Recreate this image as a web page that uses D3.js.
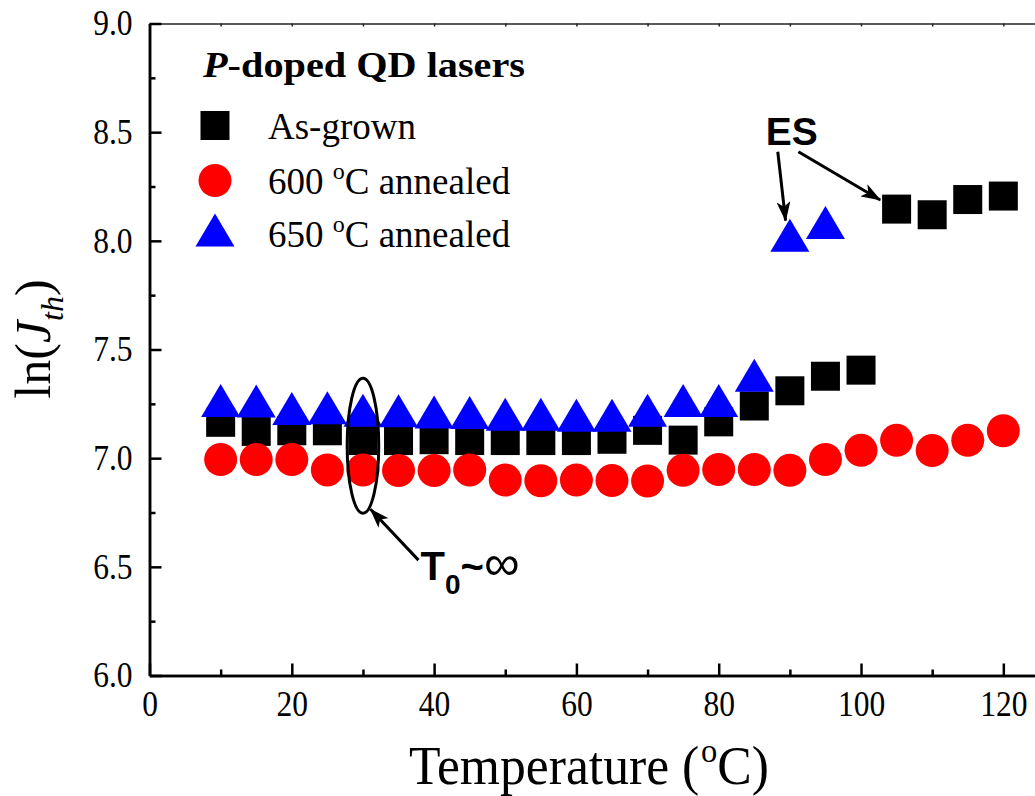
<!DOCTYPE html>
<html>
<head>
<meta charset="utf-8">
<script src="https://cdn.jsdelivr.net/npm/d3@7"></script>
<style>
  body { margin: 0; background: #fff; }
  svg { display: block; }
</style>
</head>
<body>
<svg id="chart"></svg>
<script>
// values: temperature (oC) vs ln(Jth)
let temps = [10, 15, 20, 25, 30, 35, 40, 45, 50, 55, 60, 65, 70, 75, 80, 85, 90, 95, 100, 105, 110, 115, 120];
let asGrown = [7.165, 7.123, 7.126, 7.126, 7.081, 7.081, 7.085, 7.081, 7.081, 7.081, 7.081, 7.087, 7.128, 7.083, 7.167, 7.24, 7.31, 7.377, 7.405, 8.146, 8.12, 8.19, 8.206];
let annealed600 = [6.994, 6.994, 6.994, 6.946, 6.946, 6.943, 6.943, 6.946, 6.899, 6.896, 6.899, 6.897, 6.895, 6.944, 6.948, 6.948, 6.944, 6.994, 7.036, 7.082, 7.035, 7.082, 7.126];
let temps650 = [10, 15, 20, 25, 30, 35, 40, 45, 50, 55, 60, 65, 70, 75, 80, 85, 90, 95];
let annealed650 = [7.265, 7.263, 7.228, 7.232, 7.221, 7.218, 7.212, 7.21, 7.202, 7.202, 7.197, 7.197, 7.22, 7.265, 7.265, 7.381, 8.026, 8.084];

let xMajor = [0, 20, 40, 60, 80, 100, 120];
let xMinor = [10, 30, 50, 70, 90, 110];
let yMajor = [6.0, 6.5, 7.0, 7.5, 8.0, 8.5, 9.0];
let yMinor = [6.25, 6.75, 7.25, 7.75, 8.25, 8.75];

let width = 1035, height = 796;
let sq = 29, circR = 16.5, triW = 39, triH = 33;
let serif = "'Liberation Serif', 'Times New Roman', serif";
let sans = "'Liberation Sans', Arial, sans-serif";

let svg = d3.select("#chart").attr("width", width).attr("height", height);

let x = d3.scaleLinear().domain([0, 125]).range([149.5, 1038.9]);
let y = d3.scaleLinear().domain([6, 9]).range([675.5, 23.5]);

// arrow head
svg.append("defs").append("marker")
  .attr("id", "arrow")
  .attr("markerUnits", "userSpaceOnUse")
  .attr("markerWidth", 20).attr("markerHeight", 14)
  .attr("refX", 19).attr("refY", 7)
  .attr("orient", "auto")
  .append("path").attr("d", "M0,0 L20,7 L0,14 L5,7 Z").attr("fill", "#000");

function styleAxis(g, w) {
  g.selectAll("path, line").attr("stroke", "#000").attr("stroke-width", w);
}

// top frame line with small ticks
svg.append("g")
  .attr("transform", "translate(0," + y(9) + ")")
  .call(d3.axisTop(x).tickValues(xMajor.concat(xMinor)).tickSize(-3).tickSizeOuter(0).tickFormat(""))
  .call(g => styleAxis(g, 1.5))
  .call(g => g.selectAll("path, line").attr("stroke", "#222"));

// bottom axis
svg.append("g")
  .attr("transform", "translate(0," + y(6) + ")")
  .call(d3.axisBottom(x).tickValues(xMinor).tickSize(-6).tickSizeOuter(0).tickFormat(""))
  .call(g => styleAxis(g, 2.5));
svg.append("g")
  .attr("transform", "translate(0," + y(6) + ")")
  .call(d3.axisBottom(x).tickValues(xMajor).tickSize(-12).tickSizeOuter(0).tickPadding(16).tickFormat(d3.format("d")))
  .call(g => styleAxis(g, 2.5))
  .call(g => g.selectAll("text")
    .attr("font-family", serif).attr("font-size", 35).attr("fill", "#000")
    .attr("transform", "scale(0.9,1)"));

// left axis
svg.append("g")
  .attr("transform", "translate(" + x(0) + ",0)")
  .call(d3.axisLeft(y).tickValues(yMinor).tickSize(-6).tickSizeOuter(0).tickFormat(""))
  .call(g => styleAxis(g, 2.5));
svg.append("g")
  .attr("transform", "translate(" + x(0) + ",0)")
  .call(d3.axisLeft(y).tickValues(yMajor).tickSize(-12).tickSizeOuter(0).tickPadding(17).tickFormat(d3.format(".1f")))
  .call(g => styleAxis(g, 2.5))
  .call(g => g.selectAll("text")
    .attr("font-family", serif).attr("font-size", 35).attr("fill", "#000")
    .attr("x", -17 / 0.9)
    .attr("transform", "scale(0.9,1)"));

// axis titles
let xt = svg.append("text")
  .attr("x", 589).attr("y", 784)
  .attr("text-anchor", "middle")
  .attr("font-family", serif).attr("font-size", 54)
  .attr("textLength", 360).attr("lengthAdjust", "spacingAndGlyphs");
xt.append("tspan").text("Temperature (");
xt.append("tspan").attr("font-size", 34).attr("dx", 2).attr("dy", -22).text("o");
xt.append("tspan").attr("dy", 22).text("C)");

let yt = svg.append("text")
  .attr("transform", "translate(50,339) rotate(-90)")
  .attr("text-anchor", "middle")
  .attr("font-family", serif).attr("font-size", 50);
yt.append("tspan").text("ln(");
yt.append("tspan").attr("font-style", "italic").text("J");
yt.append("tspan").attr("font-style", "italic").attr("font-size", 32).attr("dy", 13).text("th");
yt.append("tspan").attr("dy", -13).text(")");

// data marks
let sqData = temps.map((t, i) => ({ t: t, v: asGrown[i] }));
let circData = temps.map((t, i) => ({ t: t, v: annealed600[i] }));
let triData = temps650.map((t, i) => ({ t: t, v: annealed650[i] }));

function triPath(cx, cy) {
  return "M" + cx + "," + (cy - triH / 2) +
    "L" + (cx + triW / 2) + "," + (cy + triH / 2) +
    "L" + (cx - triW / 2) + "," + (cy + triH / 2) + "Z";
}

svg.append("g").selectAll("rect")
  .data(sqData).join("rect")
  .attr("x", d => x(d.t) - sq / 2)
  .attr("y", d => y(d.v) - sq / 2)
  .attr("width", sq).attr("height", sq)
  .attr("fill", "#000");

svg.append("g").selectAll("circle")
  .data(circData).join("circle")
  .attr("cx", d => x(d.t))
  .attr("cy", d => y(d.v))
  .attr("r", circR)
  .attr("fill", "#ff0000");

svg.append("g").selectAll("path")
  .data(triData).join("path")
  .attr("d", d => triPath(x(d.t), y(d.v)))
  .attr("fill", "#0000ff");

// legend
svg.append("text")
  .attr("x", 203).attr("y", 77)
  .attr("font-family", serif).attr("font-size", 36).attr("font-weight", "bold")
  .attr("textLength", 322).attr("lengthAdjust", "spacingAndGlyphs")
  .call(t => {
    t.append("tspan").attr("font-style", "italic").text("P");
    t.append("tspan").text("-doped QD lasers");
  });

svg.append("rect").attr("x", 215 - sq / 2).attr("y", 125.5 - sq / 2)
  .attr("width", sq).attr("height", sq).attr("fill", "#000");
svg.append("circle").attr("cx", 215).attr("cy", 180.5).attr("r", circR).attr("fill", "#ff0000");
svg.append("path").attr("d", triPath(215, 230)).attr("fill", "#0000ff");

svg.append("text")
  .attr("x", 268).attr("y", 138.5)
  .attr("font-family", serif).attr("font-size", 37)
  .text("As-grown");

[["600", 193.5], ["650", 247]].forEach(function (e) {
  let t = svg.append("text")
    .attr("x", 268).attr("y", e[1])
    .attr("font-family", serif).attr("font-size", 37);
  t.append("tspan").text(e[0] + " ");
  t.append("tspan").attr("font-size", 24).attr("dy", -15).text("o");
  t.append("tspan").attr("dy", 15).text("C annealed");
});

// ES annotation
svg.append("text")
  .attr("x", x(86.6)).attr("y", y(8.44))
  .attr("font-family", sans).attr("font-weight", "bold").attr("font-size", 39)
  .text("ES");
[[88.3, 8.41, 89.4, 8.093], [91.2, 8.41, 102.7, 8.188]].forEach(function (a) {
  svg.append("line")
    .attr("x1", x(a[0])).attr("y1", y(a[1]))
    .attr("x2", x(a[2])).attr("y2", y(a[3]))
    .attr("stroke", "#000").attr("stroke-width", 3)
    .attr("marker-end", "url(#arrow)");
});

// T0 annotation
svg.append("ellipse")
  .attr("cx", x(30)).attr("cy", y(7.057))
  .attr("rx", 15.8).attr("ry", 67.5)
  .attr("fill", "none").attr("stroke", "#000").attr("stroke-width", 3);
svg.append("line")
  .attr("x1", x(37.8)).attr("y1", y(6.531))
  .attr("x2", x(31.06)).attr("y2", y(6.765))
  .attr("stroke", "#000").attr("stroke-width", 3)
  .attr("marker-end", "url(#arrow)");
let t0 = svg.append("text")
  .attr("x", x(38.1)).attr("y", y(6.44))
  .attr("font-family", sans).attr("font-weight", "bold").attr("font-size", 40);
t0.append("tspan").text("T");
t0.append("tspan").attr("font-size", 28).attr("dy", 14).text("0");
t0.append("tspan").attr("dy", -14).text("~");
t0.append("tspan").attr("font-weight", "normal").attr("font-size", 50).text("\u221e");
</script>
</body>
</html>
